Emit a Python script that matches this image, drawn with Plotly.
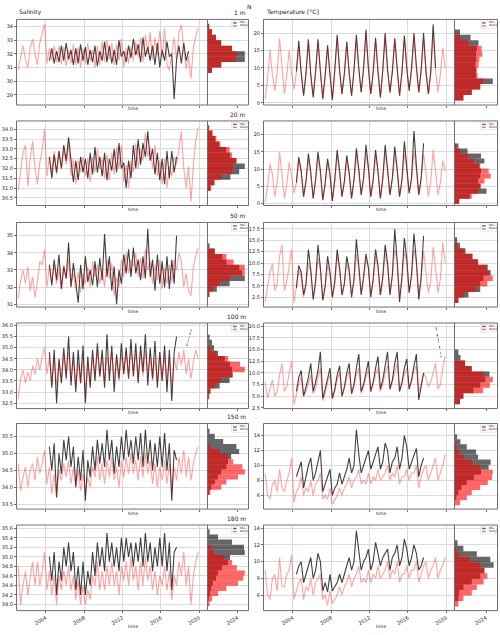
import plotly.graph_objects as go

# ---------------- time axes (quarterly samples, decimal years) ----------------
MODEL_T0 = 2001.125
OBS_T0 = 2004.375
STEP = 0.25

# ---------------- Salinity series ----------------
sal_1m_model = [30.8, 31.8, 32.6, 31.6, 31.0, 32.4, 33.1, 32.0, 31.2, 32.8, 33.6, 34.2,
                31.3, 32.4, 31.5, 32.6, 31.4, 32.6, 31.2, 32.5, 31.1, 32.3, 31.3, 32.7,
                31.2, 32.5, 31.0, 32.4, 31.3, 32.8, 31.5, 32.3, 31.0, 32.6, 31.2, 32.9,
                31.4, 33.0, 31.6, 32.8, 31.2, 32.7, 31.5, 33.1, 31.0, 32.4, 31.3, 32.5,
                31.5, 32.9, 31.8, 33.2, 31.4, 33.4, 32.0, 33.6, 31.6, 33.2, 31.9, 33.7,
                31.8, 33.9, 31.2, 30.8, 32.0, 33.2, 31.5, 33.6, 34.1, 32.5, 30.9, 31.8,
                30.2, 32.4, 33.3, 33.9]
sal_1m_obs = [31.5, 32.4, 31.3,
              32.2, 31.4, 32.6, 31.5, 32.8, 31.6, 32.3, 31.2, 32.4, 31.3, 32.7, 31.5,
              32.5, 31.2, 32.3, 31.4, 32.6, 31.1, 32.2, 31.5, 32.9, 31.4, 32.6, 31.3,
              32.3, 31.2, 33.0, 31.8, 32.2, 31.4, 32.6, 31.7, 33.1, 31.9, 32.7, 31.4,
              33.2, 31.8, 32.5, 31.5, 32.6, 31.2, 32.8, 31.0, 32.3, 31.5, 32.9, 31.8,
              32.0, 28.7, 31.6, 32.6, 31.3, 32.8, 31.5, 32.2]

sal_20m_model = [30.9, 31.9, 32.8, 33.2, 31.1, 32.5, 33.4, 32.0, 31.2, 32.3, 33.0, 34.0,
                 31.6, 32.6, 31.8, 32.9, 31.7, 32.8, 32.0, 33.0, 32.2, 33.2, 31.6, 32.5,
                 31.2, 32.4, 31.8, 32.6, 31.6, 32.5, 31.3, 32.6, 31.8, 33.0, 32.0, 32.5,
                 31.5, 32.7, 31.4, 32.8, 31.7, 33.1, 32.0, 33.2, 31.3, 32.2, 31.0, 32.4,
                 31.8, 33.3, 32.0, 33.0, 32.4, 33.8, 32.6, 33.1, 32.0, 33.2, 31.6, 32.4,
                 31.2, 32.5, 31.0, 32.1, 31.6, 32.6, 32.2, 33.0, 33.9, 32.0, 31.0, 32.1,
                 30.3, 32.2, 33.4, 34.1]
sal_20m_obs = [32.6, 31.5, 32.7,
               31.8, 32.9, 32.0, 33.2, 32.4, 33.6, 32.3, 31.3, 32.4, 31.4, 32.6, 31.8,
               32.5, 31.5, 32.8, 31.7, 33.1, 31.8, 32.6, 31.6, 32.8, 31.4, 32.5, 31.9,
               33.0, 31.8, 33.3, 32.0, 32.3, 31.0, 32.4, 31.5, 33.2, 32.0, 33.5, 32.2,
               33.3, 32.6, 33.9, 32.4, 33.0, 31.7, 32.8, 31.4, 32.5, 31.2, 32.9, 31.5,
               32.9, 31.8, 32.6]

sal_50m_model = [31.3, 32.4, 33.0, 32.2, 33.2, 31.8, 32.6, 31.4, 32.3, 33.5, 33.3, 34.2,
                 32.0, 33.2, 32.3, 33.4, 32.2, 33.0, 31.9, 33.3, 32.5, 33.6, 32.1, 32.8,
                 31.9, 32.9, 31.7, 32.8, 32.2, 33.2, 32.0, 33.5, 32.6, 33.3, 32.2, 33.0,
                 32.0, 33.6, 32.5, 33.4, 31.5, 32.6, 32.0, 33.6, 32.6, 34.0, 32.8, 33.6,
                 33.2, 34.0, 32.6, 33.7, 32.5, 34.2, 33.0, 33.5, 32.2, 33.3, 32.4, 33.6,
                 31.9, 33.1, 32.2, 33.3, 32.3, 33.6, 33.0, 34.0, 33.5, 32.0, 32.8, 31.8,
                 31.5, 33.2, 33.8, 34.3]
sal_50m_obs = [33.3, 32.1, 33.6,
               32.4, 33.9, 31.9, 33.2, 32.5, 34.6, 32.0, 33.4, 32.4, 31.1, 33.3, 31.9,
               33.8, 32.3, 33.0, 32.1, 33.5, 32.0, 33.7, 32.4, 35.1, 32.6, 33.8, 31.8,
               33.2, 31.0, 33.0, 32.2, 33.9, 32.8, 34.2, 32.6, 34.3, 32.8, 33.6, 32.4,
               33.8, 32.5, 35.4, 32.6, 33.6, 31.8, 33.9, 32.2, 33.5, 32.0, 33.8, 31.9,
               33.6, 32.2, 35.0]

sal_100m_model = [32.7, 33.6, 34.0, 33.4, 33.9, 33.5, 34.2, 33.8, 34.5, 34.0, 34.6, 35.0,
                  33.8, 34.6, 33.4, 34.5, 33.3, 34.4, 33.6, 34.7, 33.8, 34.8, 33.6, 34.5,
                  33.2, 34.3, 33.4, 34.5, 33.0, 34.2, 33.5, 34.6, 33.8, 34.9, 33.7, 34.6,
                  33.4, 34.6, 33.9, 34.8, 33.6, 34.5, 33.5, 34.7, 33.9, 34.8, 33.7, 34.9,
                  34.0, 34.7, 33.6, 34.8, 33.7, 34.9, 33.8, 34.6, 33.5, 34.5, 33.4, 34.7,
                  33.6, 34.6, 33.5, 34.4, 33.3, 34.5, 34.0, 34.8, 34.2, 34.9, 33.8, 34.5,
                  33.6, 34.4, 34.9, 34.5]
sal_100m_obs = [34.8, 33.2, 34.9,
                32.5, 34.5, 33.4, 35.0, 33.6, 35.5, 33.3, 34.8, 33.0, 34.9, 33.4, 35.1,
                32.5, 34.6, 33.2, 34.9, 33.5, 35.2, 33.7, 34.9, 33.2, 35.6, 33.5, 35.1,
                33.0, 34.7, 33.6, 35.2, 33.8, 35.0, 33.6, 35.4, 33.7, 35.2, 33.4, 35.1,
                33.9, 35.6, 33.3, 35.0, 33.6, 35.3, 33.2, 34.8, 33.5, 35.1, 33.0, 34.9,
                32.6, 34.8, 35.5]
sal_100m_late_t = [2018.7, 2018.85, 2019.0, 2019.15]
sal_100m_late = [35.1, 35.3, 35.6, 35.8]

sal_150m_model = [34.7, 33.9, 34.3, 34.6, 34.0, 34.5, 34.7, 34.2, 34.9, 34.4, 34.7, 35.1,
                  34.1, 34.6, 33.8, 34.4, 33.7, 34.5, 34.2, 34.7, 34.3, 34.8, 34.1, 34.6,
                  34.0, 34.5, 33.9, 34.4, 33.9, 34.3, 34.0, 34.6, 34.3, 34.9, 34.2, 34.7,
                  34.1, 34.8, 34.3, 34.9, 34.2, 34.6, 34.0, 34.8, 34.3, 34.9, 34.4, 35.0,
                  34.4, 34.8, 34.2, 34.9, 34.3, 35.0, 34.4, 34.8, 34.1, 34.7, 34.0, 34.6,
                  34.2, 34.8, 34.1, 34.7, 33.9, 34.6, 34.2, 34.9, 34.4, 35.1, 34.3, 34.9,
                  34.2, 34.7, 35.0, 35.2]
sal_150m_obs = [35.2, 34.5, 35.3,
                33.7, 35.0, 34.4, 35.4, 34.8, 35.5, 34.6, 35.2, 34.0, 34.9, 34.2, 35.1,
                33.6, 34.8, 34.3, 35.2, 34.5, 35.4, 34.7, 35.3, 34.6, 35.7, 34.8, 35.4,
                34.4, 35.2, 34.6, 35.5, 34.8, 35.7, 34.9, 35.4, 34.7, 35.5, 34.8, 35.6,
                34.6, 35.7, 34.7, 35.4, 34.5, 35.3, 34.6, 35.5, 34.6, 35.6, 34.5, 35.3,
                33.6, 35.1, 34.8]

sal_180m_model = [34.8, 34.0, 34.4, 34.7, 34.2, 34.6, 34.9, 34.4, 34.9, 34.4, 34.7, 35.1,
                  34.3, 34.7, 34.2, 34.6, 34.0, 34.6, 34.3, 34.7, 34.4, 34.8, 34.3, 34.6,
                  34.1, 34.5, 34.0, 34.4, 34.0, 34.3, 34.1, 34.6, 34.4, 34.9, 34.3, 34.7,
                  34.3, 34.8, 34.4, 34.9, 34.4, 34.7, 34.2, 34.8, 34.5, 34.9, 34.4, 35.0,
                  34.5, 34.8, 34.3, 34.9, 34.4, 35.0, 34.5, 34.8, 34.3, 34.7, 34.2, 34.6,
                  34.4, 34.8, 34.3, 34.7, 34.1, 34.6, 34.4, 34.9, 34.6, 35.1, 34.4, 34.8,
                  34.0, 34.6, 34.9, 35.1]
sal_180m_obs = [35.0, 34.5, 35.1,
                34.2, 34.9, 34.5, 35.2, 34.8, 35.3, 34.7, 35.1, 34.3, 34.8, 34.2, 34.9,
                34.2, 34.7, 34.4, 35.1, 34.6, 35.3, 34.8, 35.2, 34.7, 35.5, 34.9, 35.3,
                34.8, 35.2, 34.7, 35.4, 34.9, 35.4, 35.0, 35.3, 34.8, 35.3, 34.9, 35.4,
                34.8, 35.5, 34.9, 35.3, 34.7, 35.2, 34.8, 35.4, 34.8, 35.5, 34.7, 35.3,
                34.3, 35.1, 35.2]

# ---------------- Temperature series ----------------
tmp_1m_model = [1.0, 7.0, 15.2, 8.0, 3.5, 9.0, 18.5, 9.5, 2.5, 8.0, 15.0, 8.5,
                3.8, 8.5, 16.0, 9.0, 2.5, 8.0, 17.0, 8.0, 2.0, 8.5, 17.5, 9.0,
                1.5, 7.5, 15.5, 8.5, 1.0, 9.0, 18.5, 9.0, 2.5, 8.0, 16.5, 8.5,
                2.0, 9.0, 18.0, 9.5, 3.0, 9.5, 19.5, 10.0, 2.5, 8.5, 18.0, 9.0,
                1.5, 9.0, 19.0, 9.5, 3.0, 9.0, 18.0, 9.5, 2.0, 8.5, 18.5, 10.0,
                3.5, 9.5, 19.0, 10.0, 3.0, 9.0, 18.5, 9.0, 2.5, 8.5, 19.5, 9.5,
                3.0, 8.0, 15.8, 10.0]
tmp_1m_obs = [9.0, 17.8, 8.5,
              2.0, 8.5, 18.2, 8.0, 1.5, 9.0, 18.2, 9.0, 1.0, 8.0, 16.5, 8.0,
              0.8, 9.5, 19.5, 9.5, 2.5, 8.5, 17.6, 8.5, 2.0, 9.5, 19.5, 10.0,
              3.0, 10.0, 21.0, 10.0, 2.5, 9.0, 18.7, 9.0, 1.5, 9.5, 20.0, 9.5,
              3.0, 9.0, 18.5, 10.0, 2.0, 9.0, 19.3, 10.0, 3.5, 10.0, 20.0, 10.5,
              3.0, 9.5, 20.0, 9.0, 2.5, 9.0, 22.5, 10.0]

tmp_20m_model = [0.5, 5.0, 11.5, 8.5, 2.0, 6.0, 15.0, 9.0, 1.5, 5.5, 12.0, 8.0,
                 3.0, 6.0, 12.5, 9.0, 2.0, 6.0, 13.0, 8.5, 1.5, 6.5, 13.5, 9.0,
                 1.0, 5.5, 12.0, 8.0, 1.0, 6.5, 14.0, 9.0, 2.0, 6.0, 12.5, 8.5,
                 1.5, 6.5, 14.0, 9.5, 2.5, 7.0, 14.5, 10.0, 2.0, 6.5, 14.0, 9.0,
                 1.5, 6.5, 14.5, 9.5, 2.5, 7.0, 14.0, 9.5, 2.0, 6.5, 14.5, 10.0,
                 3.0, 7.0, 15.0, 10.0, 2.5, 7.0, 14.5, 9.0, 2.0, 6.5, 15.5, 9.5,
                 2.5, 6.0, 12.5, 9.5]
tmp_20m_obs = [6.0, 13.5, 9.5,
               2.0, 6.5, 14.5, 9.0, 1.5, 7.0, 15.0, 9.5, 1.0, 6.0, 13.0, 8.5,
               0.8, 7.0, 15.5, 9.5, 2.0, 6.5, 14.0, 9.0, 1.5, 7.0, 16.0, 10.0,
               2.5, 7.5, 17.0, 10.5, 2.0, 7.0, 15.5, 9.5, 1.5, 7.5, 17.0, 10.0,
               2.5, 7.5, 16.5, 10.0, 2.0, 7.0, 18.0, 10.5, 3.0, 7.5, 21.0, 11.0,
               2.5, 7.5, 17.5]

tmp_50m_model = [1.5, 5.0, 8.0, 9.8, 4.0, 5.5, 11.5, 14.0, 4.0, 6.0, 10.0, 13.0,
                 1.2, 4.5, 8.5, 7.0, 2.5, 5.0, 10.0, 8.0, 2.5, 5.5, 11.0, 8.5,
                 2.0, 4.5, 9.5, 7.5, 2.5, 5.5, 11.5, 8.5, 3.0, 5.5, 10.0, 8.0,
                 3.0, 6.0, 12.0, 9.0, 3.5, 6.5, 11.0, 9.0, 3.0, 6.0, 11.5, 9.0,
                 3.0, 6.5, 12.0, 9.5, 3.5, 7.0, 13.0, 10.0, 2.5, 6.5, 12.5, 10.0,
                 3.5, 7.0, 13.0, 10.0, 3.0, 6.5, 12.5, 8.0, 3.5, 6.0, 13.5, 9.0,
                 3.5, 6.5, 14.5, 10.0]
tmp_50m_obs = [4.5, 9.5, 8.0,
               3.0, 5.5, 13.0, 8.5, 2.0, 6.0, 14.0, 9.0, 1.8, 5.0, 11.5, 8.0,
               2.5, 6.0, 13.0, 9.0, 3.0, 5.5, 11.5, 8.5, 2.5, 6.5, 15.2, 9.5,
               3.0, 7.0, 12.0, 9.0, 2.5, 6.5, 13.0, 9.5, 3.0, 7.0, 14.0, 10.0,
               3.0, 7.5, 17.5, 10.5, 1.5, 7.0, 15.5, 11.0, 3.5, 7.5, 16.5, 10.5,
               2.0, 7.0, 16.0]

tmp_100m_model = [8.0, 4.5, 6.5, 8.5, 5.0, 6.0, 9.5, 12.0, 6.0, 7.0, 10.0, 12.5,
                  3.2, 5.5, 7.5, 9.0, 5.0, 6.0, 8.0, 9.5, 5.5, 6.5, 9.0, 11.0,
                  4.0, 5.5, 8.0, 9.5, 4.5, 6.0, 8.5, 10.0, 5.0, 6.5, 9.0, 10.5,
                  5.5, 7.0, 9.5, 11.0, 5.5, 7.0, 9.0, 10.5, 6.0, 7.5, 9.5, 11.0,
                  6.0, 7.5, 10.0, 11.5, 6.5, 8.0, 10.0, 12.0, 6.0, 7.5, 9.5, 11.0,
                  6.5, 8.0, 10.5, 11.5, 6.0, 7.5, 10.0, 9.0, 7.0, 8.0, 10.0, 12.0,
                  6.5, 7.5, 11.0, 13.5]
tmp_100m_obs = [6.0, 9.0, 10.5,
                5.0, 7.0, 9.0, 12.0, 6.0, 8.0, 10.5, 14.5, 4.5, 6.5, 9.0, 11.0,
                4.5, 6.5, 9.5, 11.5, 5.0, 7.0, 10.0, 12.0, 5.5, 7.5, 11.0, 14.0,
                6.0, 7.5, 10.0, 12.5, 6.0, 8.0, 11.0, 13.5, 6.5, 8.5, 11.5, 14.5,
                6.5, 8.5, 12.0, 14.5, 6.0, 8.0, 11.0, 13.0, 6.5, 8.5, 11.5, 14.0,
                4.2, 7.0, 10.0]
tmp_100m_late_t = [2018.95, 2019.05, 2019.15, 2019.3, 2019.45]
tmp_100m_late = [19.6, 18.0, 17.2, 15.5, 13.5]

tmp_150m_model = [9.0, 6.0, 5.5, 7.5, 8.0, 6.5, 9.5, 7.0, 6.5, 8.0, 9.0, 11.0,
                  5.0, 6.5, 7.0, 8.5, 6.0, 7.0, 6.5, 8.0, 6.0, 7.5, 8.0, 9.0,
                  5.5, 6.0, 5.5, 7.0, 4.8, 5.5, 6.0, 7.0, 6.0, 7.0, 7.5, 8.5,
                  7.0, 8.0, 8.5, 9.5, 7.5, 8.0, 7.5, 9.0, 7.5, 8.5, 8.0, 9.5,
                  8.0, 8.5, 9.0, 10.0, 8.0, 9.0, 8.5, 10.0, 7.5, 8.5, 8.5, 9.5,
                  8.0, 9.0, 9.0, 10.0, 7.0, 8.5, 9.5, 10.0, 8.0, 9.0, 10.0, 11.0,
                  8.0, 9.0, 10.0, 11.5]
tmp_150m_obs = [8.5, 9.5, 10.5,
                7.0, 8.5, 10.0, 11.0, 8.0, 9.0, 10.5, 12.0, 6.5, 7.5, 8.5, 9.5,
                6.0, 7.0, 7.5, 9.0, 7.5, 8.5, 9.5, 11.0, 9.0, 10.0, 14.8, 11.5,
                9.0, 10.0, 11.0, 12.0, 9.5, 10.5, 11.5, 12.5, 9.5, 10.5, 13.0, 12.0,
                9.0, 10.5, 11.0, 12.5, 9.5, 11.0, 14.0, 12.5, 9.5, 10.5, 11.5, 12.3,
                8.5, 10.0, 11.0]

tmp_180m_model = [9.0, 6.0, 5.5, 8.0, 8.5, 6.5, 10.5, 7.0, 7.0, 8.5, 9.0, 10.8,
                  5.5, 6.5, 7.5, 8.0, 5.5, 7.0, 6.5, 8.0, 6.0, 7.5, 8.0, 8.5,
                  5.5, 6.0, 4.8, 6.5, 5.0, 5.5, 6.0, 7.0, 6.0, 7.0, 7.5, 8.5,
                  7.0, 8.0, 8.5, 9.5, 7.5, 8.0, 7.5, 9.0, 7.5, 8.5, 8.0, 9.5,
                  8.0, 8.5, 9.0, 10.0, 8.0, 9.0, 8.5, 10.0, 7.5, 8.5, 8.5, 9.5,
                  8.0, 9.0, 9.0, 10.0, 7.5, 8.5, 9.5, 10.0, 8.0, 9.0, 9.5, 10.5,
                  8.0, 9.0, 9.5, 10.5]
tmp_180m_obs = [8.5, 9.5, 10.0,
                7.5, 8.5, 9.5, 10.5, 8.0, 9.0, 11.0, 10.0, 6.5, 7.5, 6.4, 8.5,
                6.5, 7.0, 7.5, 8.5, 7.5, 8.5, 9.5, 10.5, 9.0, 10.0, 13.7, 11.0,
                9.0, 10.0, 10.5, 11.5, 9.0, 10.0, 12.3, 11.0, 9.5, 10.5, 11.0, 11.5,
                9.0, 10.5, 11.0, 12.0, 9.5, 10.5, 12.7, 11.5, 9.5, 10.5, 12.0, 11.0,
                9.0, 9.5, 10.5]

# ---------------- Histograms (bottom bin edge, bin width, densities bottom->top) ----------------
sal_1m_hist_edges = (30.6, 0.4)
sal_1m_hist_obs = [0.10, 0.33, 0.92, 0.92, 0.60, 0.33, 0.20, 0.10, 0.03]
sal_1m_hist_model = [0.10, 0.33, 0.70, 0.72, 0.60, 0.33, 0.20, 0.10, 0.03]

sal_20m_hist_edges = (30.86, 0.28)
sal_20m_hist_obs = [0.06, 0.15, 0.56, 0.78, 0.92, 0.70, 0.55, 0.45, 0.28, 0.18, 0.10, 0.02]
sal_20m_hist_model = [0.08, 0.17, 0.33, 0.60, 0.63, 0.72, 0.60, 0.54, 0.31, 0.21, 0.12, 0.03]

sal_50m_hist_edges = (31.42, 0.314)
sal_50m_hist_obs = [0.03, 0.22, 0.54, 0.92, 0.85, 0.78, 0.46, 0.36, 0.17, 0.04]
sal_50m_hist_model = [0.04, 0.12, 0.29, 0.54, 0.92, 0.92, 0.64, 0.46, 0.17, 0.0]

sal_100m_hist_edges = (32.68, 0.243)
sal_100m_hist_obs = [0.02, 0.06, 0.29, 0.54, 0.62, 0.60, 0.55, 0.42, 0.25, 0.15, 0.10, 0.04]
sal_100m_hist_model = [0.03, 0.06, 0.17, 0.33, 0.60, 0.92, 0.80, 0.50, 0.20, 0.05, 0.0, 0.0]

sal_150m_hist_edges = (33.78, 0.15)
sal_150m_hist_obs = [0.03, 0.08, 0.17, 0.25, 0.33, 0.46, 0.50, 0.58, 0.78, 0.71, 0.38, 0.17, 0.04]
sal_150m_hist_model = [0.06, 0.33, 0.46, 0.75, 0.92, 0.86, 0.63, 0.50, 0.29, 0.06, 0.0, 0.0, 0.0]

sal_180m_hist_edges = (33.96, 0.108)
sal_180m_hist_obs = [0.0, 0.02, 0.05, 0.08, 0.12, 0.20, 0.25, 0.35, 0.50, 0.55, 0.92, 0.90, 0.60, 0.25, 0.04]
sal_180m_hist_model = [0.04, 0.10, 0.25, 0.46, 0.75, 0.88, 0.92, 0.72, 0.60, 0.40, 0.15, 0.08, 0.0, 0.0, 0.0]

tmp_1m_hist_edges = (0.67, 1.57)
tmp_1m_hist_obs = [0.20, 0.40, 0.60, 0.90, 0.50, 0.50, 0.48, 0.50, 0.50, 0.52, 0.56, 0.37, 0.12]
tmp_1m_hist_model = [0.20, 0.40, 0.60, 0.67, 0.54, 0.52, 0.56, 0.58, 0.65, 0.63, 0.32, 0.12, 0.0]

tmp_20m_hist_edges = (0.0, 1.45)
tmp_20m_hist_obs = [0.10, 0.35, 0.75, 0.60, 0.55, 0.60, 0.62, 0.58, 0.70, 0.62, 0.30, 0.08]
tmp_20m_hist_model = [0.10, 0.40, 0.55, 0.62, 0.70, 0.85, 0.80, 0.60, 0.45, 0.30, 0.12, 0.03]

tmp_50m_hist_edges = (1.26, 1.2)
tmp_50m_hist_obs = [0.08, 0.32, 0.60, 0.60, 0.68, 0.85, 0.78, 0.55, 0.42, 0.25, 0.12, 0.05]
tmp_50m_hist_model = [0.08, 0.20, 0.50, 0.77, 0.90, 0.80, 0.75, 0.55, 0.40, 0.20, 0.05, 0.0]

tmp_100m_hist_edges = (3.28, 1.17)
tmp_100m_hist_obs = [0.12, 0.20, 0.44, 0.60, 0.72, 0.82, 0.40, 0.24, 0.13, 0.08]
tmp_100m_hist_model = [0.12, 0.20, 0.67, 0.83, 0.90, 0.68, 0.40, 0.24, 0.0, 0.0]

tmp_150m_hist_edges = (4.67, 0.68)
tmp_150m_hist_obs = [0.0, 0.03, 0.08, 0.15, 0.28, 0.45, 0.62, 0.80, 0.85, 0.55, 0.50, 0.28, 0.13, 0.05]
tmp_150m_hist_model = [0.12, 0.28, 0.40, 0.60, 0.78, 0.88, 0.90, 0.60, 0.40, 0.20, 0.10, 0.03, 0.0, 0.0]

tmp_180m_hist_edges = (4.65, 0.66)
tmp_180m_hist_obs = [0.0, 0.08, 0.10, 0.20, 0.40, 0.60, 0.70, 0.92, 0.84, 0.52, 0.20, 0.06]
tmp_180m_hist_model = [0.08, 0.20, 0.40, 0.52, 0.68, 0.77, 0.70, 0.60, 0.35, 0.10, 0.02, 0.0]

depth_labels = ["1 m", "20 m", "50 m", "100 m", "150 m", "180 m"]
year_ticks = [2004, 2008, 2012, 2016, 2020]
hist_tick_val = [0.74]
hist_tick_text = ["2024"]

# ---------------- panel specs ----------------
sal_panels = [
    dict(model=sal_1m_model, obs=sal_1m_obs, he=sal_1m_hist_edges, ho=sal_1m_hist_obs, hm=sal_1m_hist_model,
         yr=[28.29, 34.49], dt=1, fmt=".0f"),
    dict(model=sal_20m_model, obs=sal_20m_obs, he=sal_20m_hist_edges, ho=sal_20m_hist_obs, hm=sal_20m_hist_model,
         yr=[30.13, 34.41], dt=0.5, fmt=".1f"),
    dict(model=sal_50m_model, obs=sal_50m_obs, he=sal_50m_hist_edges, ho=sal_50m_hist_obs, hm=sal_50m_hist_model,
         yr=[30.87, 35.74], dt=1, fmt=".0f"),
    dict(model=sal_100m_model, obs=sal_100m_obs, he=sal_100m_hist_edges, ho=sal_100m_hist_obs, hm=sal_100m_hist_model,
         yr=[32.28, 36.09], dt=0.5, fmt=".1f", late=(sal_100m_late_t, sal_100m_late)),
    dict(model=sal_150m_model, obs=sal_150m_obs, he=sal_150m_hist_edges, ho=sal_150m_hist_obs, hm=sal_150m_hist_model,
         yr=[33.37, 35.87], dt=0.5, fmt=".1f"),
    dict(model=sal_180m_model, obs=sal_180m_obs, he=sal_180m_hist_edges, ho=sal_180m_hist_obs, hm=sal_180m_hist_model,
         yr=[33.88, 35.66], dt=0.2, fmt=".1f"),
]
tmp_panels = [
    dict(model=tmp_1m_model, obs=tmp_1m_obs, he=tmp_1m_hist_edges, ho=tmp_1m_hist_obs, hm=tmp_1m_hist_model,
         yr=[-0.5, 23.8], dt=5, fmt=".0f"),
    dict(model=tmp_20m_model, obs=tmp_20m_obs, he=tmp_20m_hist_edges, ho=tmp_20m_hist_obs, hm=tmp_20m_hist_model,
         yr=[-0.4, 23.8], dt=5, fmt=".0f"),
    dict(model=tmp_50m_model, obs=tmp_50m_obs, he=tmp_50m_hist_edges, ho=tmp_50m_hist_obs, hm=tmp_50m_hist_model,
         yr=[0.47, 18.81], dt=2.5, fmt=".1f"),
    dict(model=tmp_100m_model, obs=tmp_100m_obs, he=tmp_100m_hist_edges, ho=tmp_100m_hist_obs, hm=tmp_100m_hist_model,
         yr=[2.44, 20.57], dt=2.5, fmt=".1f", late=(tmp_100m_late_t, tmp_100m_late)),
    dict(model=tmp_150m_model, obs=tmp_150m_obs, he=tmp_150m_hist_edges, ho=tmp_150m_hist_obs, hm=tmp_150m_hist_model,
         yr=[4.23, 15.56], dt=2, fmt=".0f"),
    dict(model=tmp_180m_model, obs=tmp_180m_obs, he=tmp_180m_hist_edges, ho=tmp_180m_hist_obs, hm=tmp_180m_hist_model,
         yr=[4.22, 14.32], dt=2, fmt=".0f"),
]

W, H = 500, 635
def px(x): return x / W
def py(y): return 1 - y / H

col_main = [(17, 208), (264, 455)]
col_hist = [(208, 248), (455, 497)]
rows = [(19, 104), (121, 205), (223, 307), (324, 409), (425, 510), (527, 612)]

FONT = "DejaVu Sans"
OBS_LINE = "rgba(0,0,0,0.75)"
MOD_LINE = "rgba(255,0,0,0.36)"
OBS_BAR = "rgba(0,0,0,0.6)"
MOD_BAR = "rgba(255,0,0,0.6)"
GRID = "#dadada"
SPINE = "#707070"

fig = go.Figure()
layout = {}
annotations = []
shapes = []

def axname(n):
    return "" if n == 1 else str(n)

def seg(x0, y0, x1, y1):
    # half-pixel offsets keep the 1px frame crisp
    return dict(type="line", xref="paper", yref="paper", x0=px(x0 + 0.5), y0=py(y0 + 0.5),
                x1=px(x1 + 0.5), y1=py(y1 + 0.5), line=dict(color=SPINE, width=1), layer="above")

tickstyle = dict(ticks="outside", ticklen=2, tickcolor=SPINE, tickwidth=0.8,
                 tickfont=dict(size=5, family=FONT, color="#222"))

for r, (top, bot) in enumerate(rows):
    for c, panels in enumerate([sal_panels, tmp_panels]):
        p = panels[r]
        nm = r * 4 + c * 2 + 1
        nh = nm + 1
        last = (r == len(rows) - 1)
        ydom = [py(bot), py(top)]
        layout["xaxis" + axname(nm)] = dict(
            domain=[px(col_main[c][0]), px(col_main[c][1])], anchor="y" + axname(nm),
            range=[2001.0, 2020.9], tickmode="array", tickvals=year_ticks,
            ticktext=[str(v) for v in year_ticks], showticklabels=last, tickangle=-30,
            showgrid=True, gridcolor=GRID, gridwidth=1, zeroline=False, showline=False,
            **tickstyle)
        layout["yaxis" + axname(nm)] = dict(
            domain=ydom, anchor="x" + axname(nm), range=p["yr"],
            tickmode="linear", tick0=0, dtick=p["dt"], tickformat=p["fmt"],
            showgrid=True, gridcolor=GRID, gridwidth=1, zeroline=False, showline=False,
            **tickstyle)
        layout["xaxis" + axname(nh)] = dict(
            domain=[px(col_hist[c][0]), px(col_hist[c][1])], anchor="y" + axname(nh),
            range=[0, 1], tickmode="array", tickvals=hist_tick_val, ticktext=hist_tick_text,
            showticklabels=last, tickangle=-30, showgrid=False, zeroline=False, showline=False,
            **tickstyle)
        layout["yaxis" + axname(nh)] = dict(
            domain=ydom, anchor="x" + axname(nh), range=p["yr"],
            tickmode="linear", tick0=0, dtick=p["dt"], showticklabels=False, ticks="",
            showgrid=True, gridcolor=GRID, gridwidth=1, zeroline=False, showline=False)

        xm, ym = "x" + axname(nm), "y" + axname(nm)
        xh, yh = "x" + axname(nh), "y" + axname(nh)
        mt = [MODEL_T0 + STEP * i for i in range(len(p["model"]))]
        ot = [OBS_T0 + STEP * i for i in range(len(p["obs"]))]
        fig.add_trace(go.Scatter(x=ot, y=p["obs"], mode="lines", xaxis=xm, yaxis=ym,
                                 line=dict(color=OBS_LINE, width=1.1), showlegend=False))
        if "late" in p:
            fig.add_trace(go.Scatter(x=p["late"][0], y=p["late"][1], mode="lines+markers", xaxis=xm, yaxis=ym,
                                     line=dict(color="rgba(0,0,0,0.45)", width=0.8, dash="dot"),
                                     marker=dict(size=1.5, color="rgba(0,0,0,0.5)"), showlegend=False))
        fig.add_trace(go.Scatter(x=mt, y=p["model"], mode="lines", xaxis=xm, yaxis=ym,
                                 line=dict(color=MOD_LINE, width=1.1), showlegend=False))
        b0, bw = p["he"]
        yc_o = [b0 + bw * (i + 0.5) for i in range(len(p["ho"]))]
        yc_m = [b0 + bw * (i + 0.5) for i in range(len(p["hm"]))]
        fig.add_trace(go.Bar(y=yc_o, x=p["ho"], orientation="h", width=bw, xaxis=xh, yaxis=yh,
                             marker=dict(color=OBS_BAR, line=dict(width=0)), showlegend=False))
        fig.add_trace(go.Bar(y=yc_m, x=p["hm"], orientation="h", width=bw, xaxis=xh, yaxis=yh,
                             marker=dict(color=MOD_BAR, line=dict(width=0)), showlegend=False))

        x0, xd, x1 = col_main[c][0], col_main[c][1], col_hist[c][1]
        shapes.append(seg(x0 - 1, top - 1, x1, top - 1))
        shapes.append(seg(x0 - 1, bot, x1, bot))
        shapes.append(seg(x0 - 1, top - 1, x0 - 1, bot))
        shapes.append(seg(x1, top - 1, x1, bot))
        shapes.append(seg(xd - 1, top - 1, xd - 1, bot))

        cx = (col_main[c][0] + col_hist[c][1]) / 2
        ty = 628 if last else bot + 4.5
        annotations.append(dict(x=px(cx), y=py(ty), xref="paper", yref="paper", text="time",
                                showarrow=False, xanchor="center", yanchor="middle",
                                font=dict(size=4.5, family=FONT, color="#222")))
        hr = col_hist[c][1]
        bx0, bx1 = hr - 16.5, hr - 0.8
        shapes.append(dict(type="rect", xref="paper", yref="paper", x0=px(bx0), x1=px(bx1),
                           y0=py(top + 8.3), y1=py(top + 1.0), line=dict(color="#d0d0d0", width=0.5),
                           fillcolor="rgba(255,255,255,0.8)", layer="above"))
        for k, (lab, colr) in enumerate([("Obs", OBS_BAR), ("Model", MOD_BAR)]):
            yy = top + 3.0 + k * 3.0
            shapes.append(dict(type="rect", xref="paper", yref="paper", x0=px(bx0 + 1.5), x1=px(bx0 + 5.2),
                               y0=py(yy + 0.7), y1=py(yy - 0.7), line=dict(width=0), fillcolor=colr,
                               layer="above"))
            annotations.append(dict(x=px(bx0 + 6.2), y=py(yy), xref="paper", yref="paper", text=lab,
                                    showarrow=False, xanchor="left", yanchor="middle",
                                    font=dict(size=2.6, family=FONT, color="#222")))
    annotations.append(dict(x=px(248), y=py(top - 1.5), xref="paper", yref="paper", text=depth_labels[r],
                            showarrow=False, xanchor="right", yanchor="bottom",
                            font=dict(size=6, family=FONT, color="#222")))

annotations.append(dict(x=px(17), y=py(17.5), xref="paper", yref="paper", text="Salinity",
                        showarrow=False, xanchor="left", yanchor="bottom",
                        font=dict(size=6, family=FONT, color="#222")))
annotations.append(dict(x=px(264), y=py(17.5), xref="paper", yref="paper", text="Temperature [°C]",
                        showarrow=False, xanchor="left", yanchor="bottom",
                        font=dict(size=6, family=FONT, color="#222")))
annotations.append(dict(x=px(249), y=py(6), xref="paper", yref="paper", text="N",
                        showarrow=False, xanchor="center", yanchor="middle",
                        font=dict(size=6, family=FONT, color="#222")))

fig.update_layout(**layout)
fig.update_layout(width=W, height=H, margin=dict(l=0, r=0, t=0, b=0),
                  paper_bgcolor="white", plot_bgcolor="white", barmode="overlay",
                  showlegend=False, annotations=annotations, shapes=shapes,
                  font=dict(family=FONT, size=5, color="#222"))

fig.write_html("out.html")
